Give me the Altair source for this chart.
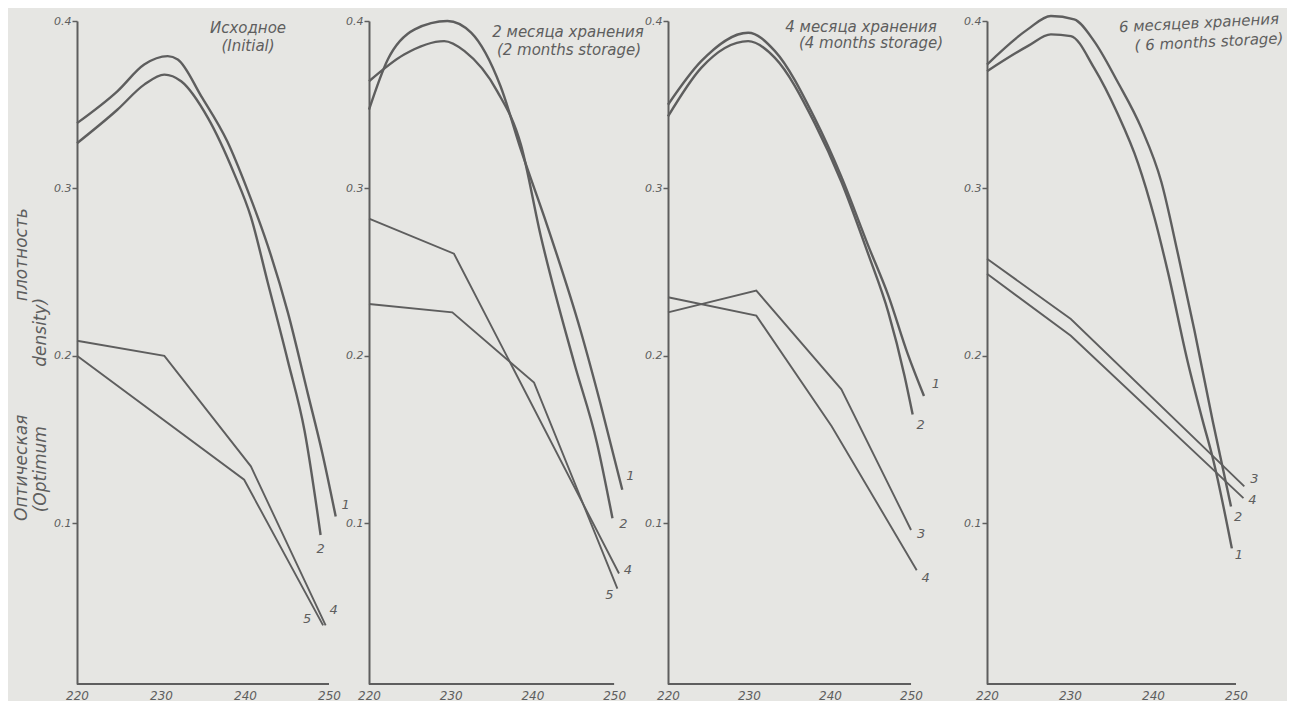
import altair as alt
import pandas as pd

# ---------------- data ----------------
X_TICKS = [220, 230, 240, 250]
Y_TICKS = [0.1, 0.2, 0.3, 0.4]
Y_MIN = 0.004
Y_MAX = 0.4

PANEL_TITLES = [
    ["Исходное", "(Initial)"],
    ["2 месяца  хранения", "(2 months  storage)"],
    ["4 месяца  хранения", "(4 months  storage)"],
    ["6 месяцев  хранения", "( 6 months  storage)"],
]

# Panel 1 - initial
P1_C1_X = [220, 224.8, 228, 230.8, 232, 234.8, 237.9, 240.3, 242.7, 245.1, 247.5, 249.2, 250.8]
P1_C1_Y = [0.339, 0.358, 0.374, 0.379, 0.377, 0.355, 0.328, 0.299, 0.266, 0.226, 0.177, 0.142, 0.104]
P1_C2_X = [220, 224.8, 228, 230.4, 232.4, 235.6, 238.7, 240.7, 242.7, 245.1, 247.1, 249]
P1_C2_Y = [0.327, 0.347, 0.362, 0.368, 0.364, 0.342, 0.309, 0.283, 0.244, 0.197, 0.155, 0.093]
P1_C4_X = [220, 230.4, 240.7, 249.6]
P1_C4_Y = [0.209, 0.200, 0.134, 0.039]
P1_C5_X = [220, 239.9, 249.3]
P1_C5_Y = [0.200, 0.126, 0.039]

# Panel 2 - 2 months
P2_C1_X = [220, 222.3, 225.6, 229.6, 232.5, 236.1, 238.6, 241.8, 245.9, 248.3, 251.0]
P2_C1_Y = [0.347, 0.377, 0.395, 0.400, 0.393, 0.361, 0.323, 0.278, 0.215, 0.172, 0.120]
P2_C2_X = [220, 224.3, 229.2, 231.7, 235.7, 238.6, 241, 245.1, 247.9, 249.8]
P2_C2_Y = [0.364, 0.380, 0.388, 0.382, 0.358, 0.326, 0.272, 0.196, 0.148, 0.103]
P2_C4_X = [220, 230.4, 250.6]
P2_C4_Y = [0.282, 0.261, 0.070]
P2_C5_X = [220, 230.2, 240.2, 250.4]
P2_C5_Y = [0.231, 0.226, 0.184, 0.061]

# Panel 3 - 4 months
P3_C1_X = [220, 224.1, 229.9, 233.2, 238.1, 241.4, 244.7, 247.2, 249.6, 251.6]
P3_C1_Y = [0.350, 0.376, 0.393, 0.382, 0.342, 0.307, 0.266, 0.236, 0.201, 0.176]
P3_C2_X = [220, 224.1, 229.9, 233.2, 238.1, 241.4, 244.7, 247.2, 249.2, 250.2]
P3_C2_Y = [0.343, 0.372, 0.388, 0.378, 0.339, 0.304, 0.261, 0.226, 0.188, 0.165]
P3_C3_X = [220, 230.9, 241.4, 250]
P3_C3_Y = [0.226, 0.239, 0.180, 0.096]
P3_C4_X = [220, 230.9, 240.2, 250.7]
P3_C4_Y = [0.235, 0.224, 0.158, 0.072]

# Panel 4 - 6 months
P4_C1_X = [220, 224.9, 227.7, 230.1, 232.9, 235.7, 238.2, 240.2, 241.8, 244.2, 246, 247.2, 249.5]
P4_C1_Y = [0.370, 0.385, 0.392, 0.391, 0.372, 0.345, 0.315, 0.282, 0.250, 0.196, 0.161, 0.139, 0.085]
P4_C2_X = [220, 224.9, 227.7, 230.5, 232.9, 235.7, 238.6, 241, 243, 245, 247.2, 249.4]
P4_C2_Y = [0.374, 0.395, 0.403, 0.401, 0.388, 0.364, 0.336, 0.304, 0.261, 0.215, 0.161, 0.110]
P4_C3_X = [220, 230.1, 251.0]
P4_C3_Y = [0.258, 0.222, 0.122]
P4_C4_X = [220, 230.1, 250.9]
P4_C4_Y = [0.249, 0.212, 0.115]

PANEL_SERIES = [
    [("1", P1_C1_X, P1_C1_Y, True), ("2", P1_C2_X, P1_C2_Y, True),
     ("4", P1_C4_X, P1_C4_Y, False), ("5", P1_C5_X, P1_C5_Y, False)],
    [("1", P2_C1_X, P2_C1_Y, True), ("2", P2_C2_X, P2_C2_Y, True),
     ("4", P2_C4_X, P2_C4_Y, False), ("5", P2_C5_X, P2_C5_Y, False)],
    [("1", P3_C1_X, P3_C1_Y, True), ("2", P3_C2_X, P3_C2_Y, True),
     ("3", P3_C3_X, P3_C3_Y, False), ("4", P3_C4_X, P3_C4_Y, False)],
    [("1", P4_C1_X, P4_C1_Y, True), ("2", P4_C2_X, P4_C2_Y, True),
     ("3", P4_C3_X, P4_C3_Y, False), ("4", P4_C4_X, P4_C4_Y, False)],
]

# ---------------- layout / style ----------------
INK = "#5e5e5e"
BG = "#e6e6e3"
FONT = "DejaVu Sans"
PANEL_WIDTHS = [252, 259, 279, 249]
PANEL_XMAX = [250, 251.7, 254.44, 250]
PLOT_H = 663
SPACING = 40

LABEL_OFFSETS = [
    {"1": (10, -12), "2": (0, 14), "4": (8, -15), "5": (-16, -6)},
    {"1": (8, -14), "2": (11, 6), "4": (9, -4), "5": (-8, 6)},
    {"1": (12, -12), "2": (8, 11), "3": (10, 4), "4": (9, 8)},
    {"1": (7, 7), "2": (7, 10), "3": (10, -7), "4": (9, 2)},
]
# (x, y, angle) pixel placement of the two title lines inside each plot
TITLE_POS = [
    [(171, 7, 0), (171, 25, 0)],
    [(199, 11, 0), (200, 29, 0)],
    [(193, 6, 0), (203, 22, 0)],
    [(212, 2, 357), (222, 21, 357)],
]

NB = "\u00a0"
ZW = "\u200b"
Y_TITLE = ["Оптическая" + NB * 21 + "плотность",
           "(Optimum" + NB * 11 + "density)" + NB * 15 + ZW]


def build_panel(i):
    rows = []
    for name, xs, ys, smooth in PANEL_SERIES[i]:
        for x, y in zip(xs, ys):
            rows.append({"wl": x, "od": y, "curve": name,
                         "kind": "smooth" if smooth else "poly"})
    df = pd.DataFrame(rows)

    xscale = alt.Scale(domain=[220, PANEL_XMAX[i]], nice=False, zero=False)
    yscale = alt.Scale(domain=[Y_MIN, Y_MAX], nice=False, zero=False)
    xaxis = alt.Axis(values=X_TICKS, format="d", domain=False, ticks=False,
                     grid=False, labelPadding=6, labelFont=FONT,
                     labelFontStyle="italic", labelFontSize=12,
                     labelColor=INK, labelFlush=False)
    yargs = dict(values=Y_TICKS, format=".1f", tickSize=5, tickWidth=1.5,
                 tickColor=INK, domainColor=INK, domainWidth=2, grid=False,
                 labelFont=FONT, labelFontStyle="italic", labelFontSize=11,
                 labelColor=INK, labelPadding=1, labelFlush=False)
    if i == 0:
        yargs.update(title=Y_TITLE, titleFont=FONT, titleFontSize=17,
                     titleFontStyle="italic", titleFontWeight="normal",
                     titleColor=INK, titleAngle=270, titleX=-56, titleY=343,
                     titleBaseline="middle", titleLineHeight=19)
        ytitle = Y_TITLE
    else:
        ytitle = None
    yaxis = alt.Axis(**yargs)

    x_enc = alt.X("wl:Q", scale=xscale, axis=xaxis, title=None)
    y_enc = alt.Y("od:Q", scale=yscale, axis=yaxis, title=ytitle)

    base = alt.Chart(df)
    smooth = base.transform_filter(alt.datum.kind == "smooth").mark_line(
        interpolate="monotone", color=INK, strokeWidth=2.4
    ).encode(x=x_enc, y=y_enc, detail="curve:N")
    poly = base.transform_filter(alt.datum.kind == "poly").mark_line(
        interpolate="linear", color=INK, strokeWidth=1.9
    ).encode(x="wl:Q", y="od:Q", detail="curve:N")

    baseline = alt.Chart(pd.DataFrame({"wl": [X_TICKS[0]], "wl2": [X_TICKS[-1]],
                                       "od": [Y_MIN]})).mark_rule(
        color=INK, strokeWidth=2).encode(x="wl:Q", x2="wl2:Q", y="od:Q")

    layers = [baseline, smooth, poly]
    for name, xs, ys, smooth_flag in PANEL_SERIES[i]:
        dx, dy = LABEL_OFFSETS[i][name]
        lab = alt.Chart(pd.DataFrame({"wl": [xs[-1]], "od": [ys[-1]], "lab": [name]})).mark_text(
            dx=dx, dy=dy, font=FONT, fontStyle="italic", fontSize=13, color=INK
        ).encode(x="wl:Q", y="od:Q", text="lab:N")
        layers.append(lab)

    for line, (px, py, ang) in zip(PANEL_TITLES[i], TITLE_POS[i]):
        t = alt.Chart(pd.DataFrame({"t": [line]})).mark_text(
            align="center", baseline="middle", font=FONT, fontStyle="italic",
            fontSize=15, color=INK, angle=ang
        ).encode(text="t:N", x=alt.value(px), y=alt.value(py))
        layers.append(t)

    return alt.layer(*layers).properties(width=PANEL_WIDTHS[i], height=PLOT_H)


chart = alt.hconcat(*[build_panel(i) for i in range(4)], spacing=SPACING,
                    bounds="flush").properties(
    background=BG,
    padding={"left": 4, "top": 3, "right": 0, "bottom": 0},
).configure_view(stroke=None)

chart.save("out.html", embed_options={"renderer": "svg", "actions": False})
